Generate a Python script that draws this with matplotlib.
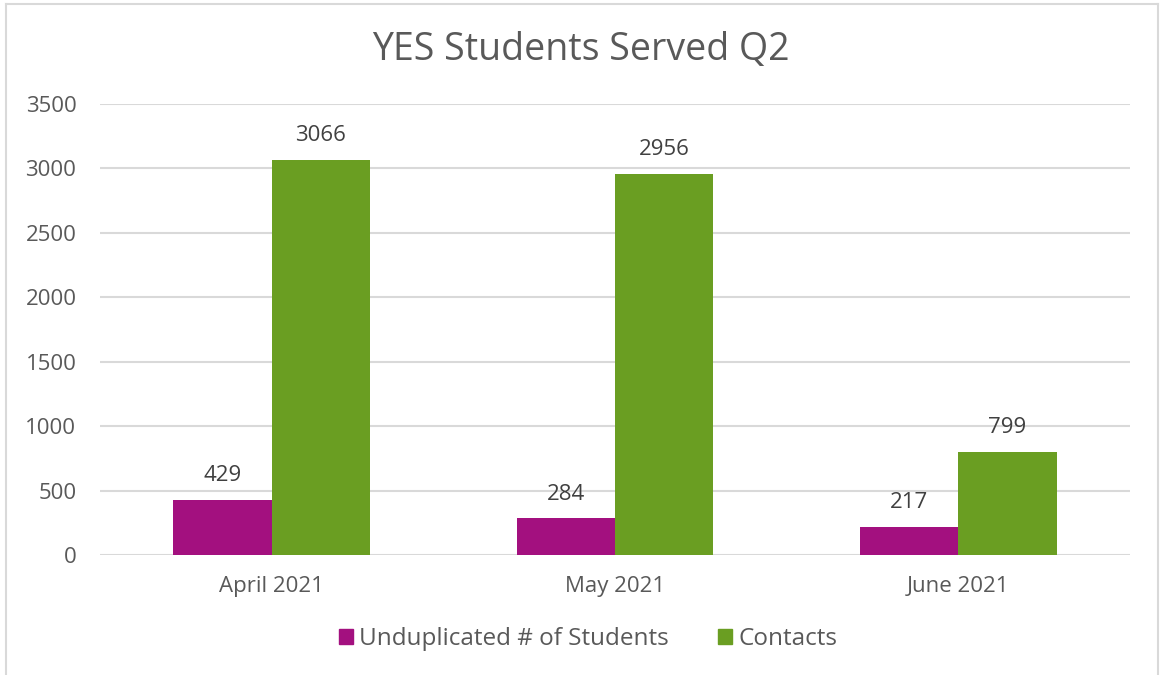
import matplotlib
matplotlib.use("Agg")
import matplotlib.pyplot as plt
from matplotlib.lines import Line2D
import numpy as np

categories = ["April 2021", "May 2021", "June 2021"]
series_names = ["Unduplicated # of Students", "Contacts"]
students = [429, 284, 217]
contacts = [3066, 2956, 799]
yticks = [0, 500, 1000, 1500, 2000, 2500, 3000, 3500]

purple = "#A3107F"
green = "#6A9E22"
text_col = "#595959"

plt.rcParams['font.family'] = ['Open Sans', 'DejaVu Sans']

fig = plt.figure(figsize=(11.61, 6.75), dpi=100)
ax = fig.add_axes([100/1161, 1-555/675, 1030/1161, (555-104)/675])

x = np.arange(len(categories))
w = 0.286
b1 = ax.bar(x - w/2, students, w, color=purple, label=series_names[0], zorder=3)
b2 = ax.bar(x + w/2, contacts, w, color=green, label=series_names[1], zorder=3)

for bars, vals in ((b1, students), (b2, contacts)):
    for r, v in zip(bars, vals):
        ax.annotate(str(v), (r.get_x() + r.get_width()/2, r.get_height()),
                    xytext=(0, 10), textcoords="offset points",
                    ha="center", va="bottom", fontsize=16, color="#404040")

ax.set_xlim(-0.5, 2.5)
ax.set_ylim(0, 3500)
ax.set_yticks(yticks)
ax.set_yticklabels([str(t) for t in yticks])
ax.set_xticks(x)
ax.set_xticklabels(categories)
ax.tick_params(axis='both', length=0, labelsize=16, labelcolor=text_col)
ax.tick_params(axis='y', pad=17)
ax.tick_params(axis='x', pad=15)
ax.grid(axis='y', color="#D9D9D9", linewidth=1.5, zorder=0)
for s in ax.spines.values():
    s.set_visible(False)

fig.text(0.5, 1-50/675, "YES Students Served Q2", ha="center", va="center",
         fontsize=27, color=text_col)

handles = [plt.Rectangle((0, 0), 1, 1, color=purple), plt.Rectangle((0, 0), 1, 1, color=green)]
fig.legend(handles, series_names, loc="center", bbox_to_anchor=(588/1161, 1-639/675),
           ncol=2, frameon=False, fontsize=17.5, handlelength=0.6, handleheight=0.6,
           handletextpad=0.25, columnspacing=2.0, labelcolor=text_col)

# chart border
bc = "#D9D9D9"
fig.add_artist(Line2D([6/1161, 6/1161], [0, 1-4/675], transform=fig.transFigure, color=bc, lw=1.5))
fig.add_artist(Line2D([6/1161, 1158/1161], [1-4/675, 1-4/675], transform=fig.transFigure, color=bc, lw=1.5))
fig.add_artist(Line2D([1158/1161, 1158/1161], [0, 1-4/675], transform=fig.transFigure, color=bc, lw=1.5))

fig.savefig("out.png", dpi=100, facecolor="white")
